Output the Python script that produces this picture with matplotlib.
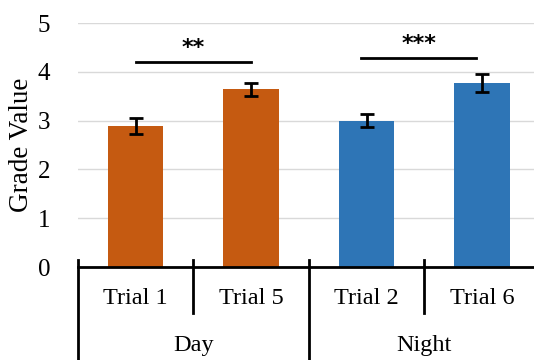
import matplotlib
matplotlib.use("Agg")
import matplotlib.pyplot as plt
from matplotlib.transforms import blended_transform_factory

# Data
trials = ["Trial 1", "Trial 5", "Trial 2", "Trial 6"]
groups = ["Day", "Night"]
values = [2.89, 3.64, 3.00, 3.77]
errors = [0.17, 0.14, 0.13, 0.19]
colors = ["#C55A11", "#C55A11", "#2E75B6", "#2E75B6"]
sig_labels = ["**", "***"]
sig_pairs = [(0, 1), (2, 3)]
sig_heights = [4.21, 4.28]

plt.rcParams["font.family"] = ["Liberation Serif", "DejaVu Serif"]

fig = plt.figure(figsize=(5.34, 3.6), dpi=100)
W, H = 534, 360
left, right, bottom, top = 78, 534, 267, 23
ax = fig.add_axes([left / W, 1 - bottom / H, (right - left) / W, (bottom - top) / H])

x = list(range(len(trials)))
ax.bar(x, values, width=0.48, color=colors, zorder=2)
ax.errorbar(x, values, yerr=errors, fmt="none", ecolor="black",
            elinewidth=2, capsize=5, capthick=2, zorder=3)

ax.set_xlim(-0.5, 3.45)
ax.set_ylim(0, 5)
ax.set_yticks(range(6))
ax.yaxis.grid(True, color="#D9D9D9", linewidth=1, zorder=0)
ax.set_axisbelow(True)
for s in ["left", "right", "top"]:
    ax.spines[s].set_visible(False)
ax.spines["bottom"].set_linewidth(2)
ax.spines["bottom"].set_zorder(4)
ax.tick_params(axis="y", length=0, labelsize=18, pad=20)
ax.set_xticks([])
fig.text(22 / W, 1 - 145 / H, "Grade Value", rotation=90, ha="center",
         va="center", fontsize=19.5)

# Significance brackets
for (a, b), h, lab, off in zip(sig_pairs, sig_heights, sig_labels, [0.0, -0.05]):
    ax.plot([a + off, b + off], [h, h], color="black", linewidth=2, zorder=3)
    ax.text((a + b) / 2 + off, h + 0.08, lab, ha="center", va="bottom",
            fontsize=16, fontweight="bold", family="DejaVu Sans")

# Two-level category axis
tr = blended_transform_factory(ax.transData, ax.transAxes)
ax_h = bottom - top
for i, name in enumerate(trials):
    ax.text(i, -31 / ax_h, name, transform=tr, ha="center", va="center", fontsize=17.5)
for g, name in enumerate(groups):
    ax.text(2 * g + 0.5, -78 / ax_h, name, transform=tr, ha="center", va="center", fontsize=17.5)
for xd in [0.5, 2.5]:
    ax.plot([xd, xd], [7 / ax_h, -46 / ax_h], transform=tr, color="black",
            linewidth=2, clip_on=False, zorder=5)
for xd in [-0.5, 1.5]:
    ax.plot([xd, xd], [7 / ax_h, -100 / ax_h], transform=tr, color="black",
            linewidth=2, clip_on=False, zorder=5)

fig.savefig("out.png", dpi=100)
